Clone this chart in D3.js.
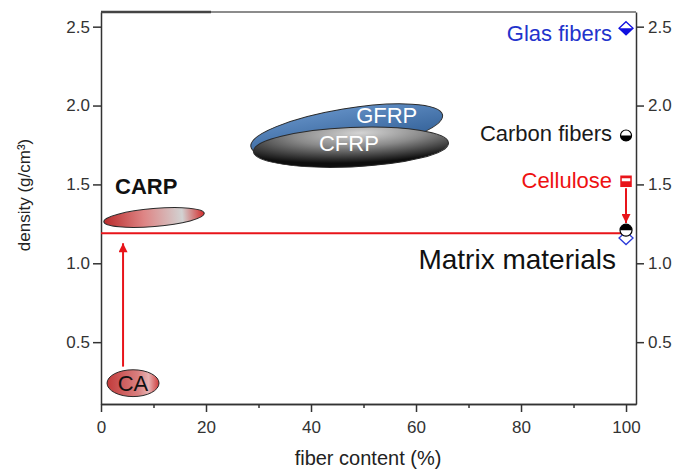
<!DOCTYPE html>
<html>
<head>
<meta charset="utf-8">
<script src="https://cdn.jsdelivr.net/npm/d3@7"></script>
<style>
  body { margin: 0; background: #fff; }
  svg { font-family: "Liberation Sans", Arial, sans-serif; }
  .axis path, .axis line { stroke: #333; stroke-width: 1.5; }
  .axis text { fill: #333; font-size: 17px; font-family: "Liberation Sans", Arial, sans-serif; }
</style>
</head>
<body>
<svg width="675" height="470"></svg>
<script>
// composites (ellipses)
var compositeNames = ["CA", "CARP", "GFRP", "CFRP"];
var compositeFiber = [6.1, 10.1, 46.8, 47.6];      // centre, fiber content %
var compositeDensity = [0.24, 1.29, 1.84, 1.736];  // centre, g/cm3
var fiberSpread = [4.95, 9.6, 18.5, 18.6];          // half range, %
var densitySpread = [0.085, 0.057, 0.14, 0.125];    // half range, g/cm3

// pure fibers at 100 %
var fibers = ["Glas fibers", "Carbon fibers", "Cellulose"];
var fiberDensity = [2.49, 1.81, 1.52];

// matrix
var matrixDensity = 1.19;
var matrixMarks = [1.21, 1.16];   // carbon circle, glas diamond

// arrows [x, from, to]
var arrows = [[4.2, 0.345, 1.127], [100, 1.476, 1.255]];

var xTicks = [0, 20, 40, 60, 80, 100];
var xMinor = [10, 30, 50, 70, 90];
var yTicks = [0.5, 1.0, 1.5, 2.0, 2.5];

var svg = d3.select("svg");

var x = d3.scaleLinear().domain([0, 101.9]).range([101, 636]);
var y = d3.scaleLinear().domain([0.108, 2.593]).range([404, 12]);

var defs = svg.append("defs");

var g1 = defs.append("linearGradient").attr("id", "carp");
g1.append("stop").attr("offset", "0%").attr("stop-color", "#b92b2b");
g1.append("stop").attr("offset", "40%").attr("stop-color", "#de8585");
g1.append("stop").attr("offset", "78%").attr("stop-color", "#d2d2d2");
g1.append("stop").attr("offset", "100%").attr("stop-color", "#d42a2a");

var g2 = defs.append("linearGradient").attr("id", "ca");
g2.append("stop").attr("offset", "0%").attr("stop-color", "#c23a3a");
g2.append("stop").attr("offset", "60%").attr("stop-color", "#d98080");
g2.append("stop").attr("offset", "80%").attr("stop-color", "#e7b2b2");
g2.append("stop").attr("offset", "100%").attr("stop-color", "#cf3a3a");

var g3 = defs.append("radialGradient").attr("id", "cfrp")
  .attr("cx", "55%").attr("cy", "15%").attr("r", "75%");
g3.append("stop").attr("offset", "0%").attr("stop-color", "#d4d4d4");
g3.append("stop").attr("offset", "45%").attr("stop-color", "#8a8a8a");
g3.append("stop").attr("offset", "100%").attr("stop-color", "#0e0e0e");

var g4 = defs.append("linearGradient").attr("id", "gfrp")
  .attr("x1", "0").attr("y1", "0").attr("x2", "0").attr("y2", "1");
g4.append("stop").attr("offset", "0%").attr("stop-color", "#5f8cc2");
g4.append("stop").attr("offset", "100%").attr("stop-color", "#2f5d94");

defs.append("marker")
    .attr("id", "head")
    .attr("viewBox", "0 0 10 10")
    .attr("refX", 10).attr("refY", 5)
    .attr("markerUnits", "userSpaceOnUse")
    .attr("markerWidth", 11).attr("markerHeight", 9)
    .attr("orient", "auto")
  .append("path")
    .attr("d", "M0,0L10,5L0,10Z")
    .attr("fill", "#e8141a");

var fills = ["url(#ca)", "url(#carp)", "url(#gfrp)", "url(#cfrp)"];
var angles = [0, -4.8, -9.4, -2.5];

// axes
svg.append("g")
    .attr("class", "axis")
    .attr("transform", "translate(0,404)")
    .call(d3.axisBottom(x).tickValues(xTicks).tickSize(8).tickPadding(9).tickSizeOuter(0));

svg.append("g")
    .attr("class", "axis")
    .attr("transform", "translate(0,404)")
    .call(d3.axisBottom(x).tickValues(xMinor).tickSize(4).tickFormat("").tickSizeOuter(0));

svg.append("g")
    .attr("class", "axis")
    .attr("transform", "translate(101,0)")
    .call(d3.axisLeft(y).tickValues(yTicks).tickSize(8).tickPadding(3)
      .tickFormat(d3.format(".1f")).tickSizeOuter(0));

svg.append("g")
    .attr("class", "axis")
    .attr("transform", "translate(636,0)")
    .call(d3.axisRight(y).tickValues(yTicks).tickSize(8).tickPadding(4)
      .tickFormat(d3.format(".1f")).tickSizeOuter(0));

// top border
svg.append("line")
    .attr("x1", 101).attr("x2", 636).attr("y1", 12).attr("y2", 12)
    .attr("stroke", "#666").attr("stroke-width", 1.5);
svg.append("line")
    .attr("x1", 101).attr("x2", 211).attr("y1", 12).attr("y2", 12)
    .attr("stroke", "#444").attr("stroke-width", 2.5);

// axis titles
svg.append("text")
    .attr("x", 368).attr("y", 465)
    .attr("text-anchor", "middle")
    .attr("font-size", 20)
    .attr("fill", "#222")
    .text("fiber content (%)");

svg.append("text")
    .attr("transform", "translate(30,195) rotate(-90)")
    .attr("text-anchor", "middle")
    .attr("font-size", 17)
    .attr("fill", "#222")
    .text("density (g/cm³)");

// matrix line
svg.append("line")
    .attr("x1", x(0)).attr("x2", x(100))
    .attr("y1", y(matrixDensity)).attr("y2", y(matrixDensity))
    .attr("stroke", "#e8141a").attr("stroke-width", 2);

// ellipses
var order = [0, 1, 2, 3];
svg.append("g").selectAll("ellipse")
  .data(order)
  .enter().append("ellipse")
    .attr("transform", function(i) {
      return "translate(" + x(compositeFiber[i]) + "," + y(compositeDensity[i]) + ") rotate(" + angles[i] + ")";
    })
    .attr("rx", function(i) { return x(compositeFiber[i] + fiberSpread[i]) - x(compositeFiber[i]); })
    .attr("ry", function(i) { return y(compositeDensity[i] - densitySpread[i]) - y(compositeDensity[i]); })
    .attr("fill", function(i) { return fills[i]; })
    .attr("stroke", "#2a2a2a")
    .attr("stroke-width", 1);

// ellipse labels
var labelDx = [0, -39, 40, -2];
var labelDy = [8, -24, -8, 4];
svg.append("g").selectAll("text")
  .data(order)
  .enter().append("text")
    .attr("x", function(i) { return x(compositeFiber[i]) + labelDx[i]; })
    .attr("y", function(i) { return y(compositeDensity[i]) + labelDy[i]; })
    .attr("text-anchor", function(i) { return i == 1 ? "start" : "middle"; })
    .attr("font-size", 22)
    .attr("font-weight", function(i) { return i == 1 ? "bold" : "normal"; })
    .attr("fill", function(i) { return i >= 2 ? "#fff" : "#111"; })
    .text(function(i) { return compositeNames[i]; });

// arrows
svg.append("g").selectAll("line")
  .data(arrows)
  .enter().append("line")
    .attr("x1", function(d) { return x(d[0]); })
    .attr("x2", function(d) { return x(d[0]); })
    .attr("y1", function(d) { return y(d[1]); })
    .attr("y2", function(d) { return y(d[2]); })
    .attr("stroke", "#e8141a")
    .attr("stroke-width", 2)
    .attr("marker-end", "url(#head)");

// markers at 100 %
var mx = x(100);
function diamond(cy, w, h) {
  return "M" + mx + "," + (cy - h) + "L" + (mx + w) + "," + cy + "L" + mx + "," + (cy + h) + "L" + (mx - w) + "," + cy + "Z";
}
function lowerDiamond(cy, w, h) {
  return "M" + (mx - w) + "," + cy + "L" + (mx + w) + "," + cy + "L" + mx + "," + (cy + h) + "Z";
}

// glas fibers
var gy = y(fiberDensity[0]);
svg.append("path").attr("d", diamond(gy, 7, 6.5)).attr("fill", "#fff").attr("stroke", "#1010e0").attr("stroke-width", 1.3);
svg.append("path").attr("d", lowerDiamond(gy, 7, 6.5)).attr("fill", "#1010e0");

// carbon fibers
var cy = y(fiberDensity[1]);
svg.append("circle").attr("cx", mx).attr("cy", cy).attr("r", 5.5).attr("fill", "#fff").attr("stroke", "#000").attr("stroke-width", 1.2);
svg.append("path").attr("d", "M" + (mx - 5.5) + "," + cy + "A5.5,5.5 0 0 0 " + (mx + 5.5) + "," + cy + "Z").attr("fill", "#000");

// cellulose
var sy = y(fiberDensity[2]);
svg.append("rect").attr("x", mx - 5).attr("y", sy - 5).attr("width", 10).attr("height", 10)
    .attr("fill", "#fff").attr("stroke", "#e8141a").attr("stroke-width", 1.5);
svg.append("rect").attr("x", mx - 5).attr("y", sy).attr("width", 10).attr("height", 5).attr("fill", "#e8141a");
svg.append("rect").attr("x", mx - 5).attr("y", sy - 5).attr("width", 10).attr("height", 2).attr("fill", "#e8141a");

// matrix markers
var dy2 = y(matrixMarks[1]);
svg.append("path").attr("d", diamond(dy2, 7, 6.5)).attr("fill", "#fff").attr("stroke", "#2a3ad8").attr("stroke-width", 1.3);
var cy2 = y(matrixMarks[0]);
svg.append("circle").attr("cx", mx).attr("cy", cy2).attr("r", 6).attr("fill", "#fff").attr("stroke", "#000").attr("stroke-width", 1.2);
svg.append("path").attr("d", "M" + (mx - 6) + "," + cy2 + "A6,6 0 0 1 " + (mx + 6) + "," + cy2 + "Z").attr("fill", "#000");

// fiber labels
var fiberColors = ["#2233cc", "#1a1a1a", "#ee1111"];
var fiberLabelDy = [13, 5, 7];
svg.append("g").selectAll("text")
  .data(fibers)
  .enter().append("text")
    .attr("x", 612)
    .attr("y", function(d, i) { return y(fiberDensity[i]) + fiberLabelDy[i]; })
    .attr("text-anchor", "end")
    .attr("font-size", 22)
    .attr("fill", function(d, i) { return fiberColors[i]; })
    .text(function(d) { return d; });

svg.append("text")
    .attr("x", 616).attr("y", y(matrixDensity) + 36)
    .attr("text-anchor", "end")
    .attr("font-size", 28)
    .attr("fill", "#111")
    .text("Matrix materials");
</script>
</body>
</html>
